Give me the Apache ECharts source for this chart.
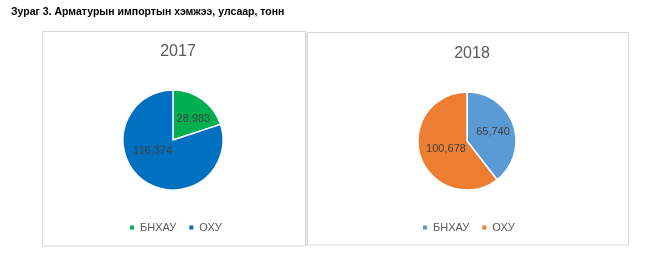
<!DOCTYPE html>
<html>
<head>
<meta charset="utf-8">
<script src="https://cdn.jsdelivr.net/npm/echarts@6/dist/echarts.min.js"></script>
<style>
html,body{margin:0;padding:0;background:#fff;}
.c{position:absolute;left:0;top:0;width:647px;height:272px;}
</style>
</head>
<body>
<div id="c1" class="c"></div>
<div id="c2" class="c"></div>
<script>
const mainTitle = 'Зураг 3. Арматурын импортын хэмжээ, улсаар, тонн';
const countries = ['БНХАУ', 'ОХУ'];
const years = ['2017', '2018'];
const values2017 = [28983, 116374];
const values2018 = [65740, 100678];
const colors2017 = ['#00B050', '#0070C0'];
const colors2018 = ['#5B9BD5', '#ED7D31'];
// label nudges (styling only)
const labelOffsets2017 = [[4, 2], [-4, -12]];
const labelOffsets2018 = [[0, 0], [5, -1]];

const font = '"Liberation Sans", Arial, sans-serif';

function panelOption(year, values, colors, offsets, panel, pie) {
  const data = countries.map((n, i) => ({
    name: n, value: values[i],
    itemStyle: { color: colors[i] },
    label: { offset: offsets[i] }
  }));
  return {
    animation: false,
    backgroundColor: 'transparent',
    title: [{
      text: year,
      left: pie.cx, top: pie.ty, textAlign: 'center',
      textStyle: { fontFamily: font, fontSize: 16, fontWeight: 'normal', color: '#595959' }
    }],
    graphic: [{
      type: 'rect', silent: true,
      shape: { x: panel.x, y: panel.y, width: panel.w, height: panel.h },
      style: { fill: 'none', stroke: '#d9d9d9', lineWidth: 1 }
    }],
    legend: {
      data: countries,
      left: pie.cx, top: 217,
      orient: 'horizontal',
      icon: 'rect', itemWidth: 6, itemHeight: 6, itemGap: 11,
      textStyle: { fontFamily: font, fontSize: 11, color: '#595959' }
    },
    series: [{
      type: 'pie',
      center: [pie.cx, pie.cy],
      radius: pie.r,
      startAngle: 90,
      clockwise: true,
      data: data,
      itemStyle: { borderColor: '#fff', borderWidth: 1.5 },
      label: {
        show: true, position: 'inside',
        formatter: p => p.value.toLocaleString('en-US'),
        fontFamily: font, fontSize: 11, color: '#404040'
      },
      labelLine: { show: false },
      emphasis: { disabled: true }
    }]
  };
}

const c1 = echarts.init(document.getElementById('c1'), null, { renderer: 'canvas' });
const o1 = panelOption(years[0], values2017, colors2017, labelOffsets2017,
  { x: 42.5, y: 31.5, w: 263, h: 214.5 }, { cx: 173, cy: 140, r: 50, ty: 39 });
o1.title.push({
  text: mainTitle, left: 6, top: 2,
  textStyle: { fontFamily: font, fontSize: 10.5, fontWeight: 'bold', color: '#000' }
});
o1.graphic.push({
  type: 'line', silent: true,
  shape: { x1: 306, y1: 31, x2: 306, y2: 246 },
  style: { stroke: '#d0d0d0', lineWidth: 1 }
});
c1.setOption(o1);

const c2 = echarts.init(document.getElementById('c2'), null, { renderer: 'canvas' });
const o2 = panelOption(years[1], values2018, colors2018, labelOffsets2018,
  { x: 307.5, y: 32.5, w: 321, h: 212.5 }, { cx: 467, cy: 141, r: 49, ty: 41 });
c2.setOption(o2);

// center legends horizontally on pie centres
[ [c1, 175], [c2, 468] ].forEach(([c, cx]) => {
  const comp = c.getModel().getComponent('legend');
  const view = c.getViewOfComponentModel(comp);
  const rect = view.group.getBoundingRect();
  c.setOption({ legend: { left: Math.round(cx - rect.width / 2) } });
});
</script>
</body>
</html>
